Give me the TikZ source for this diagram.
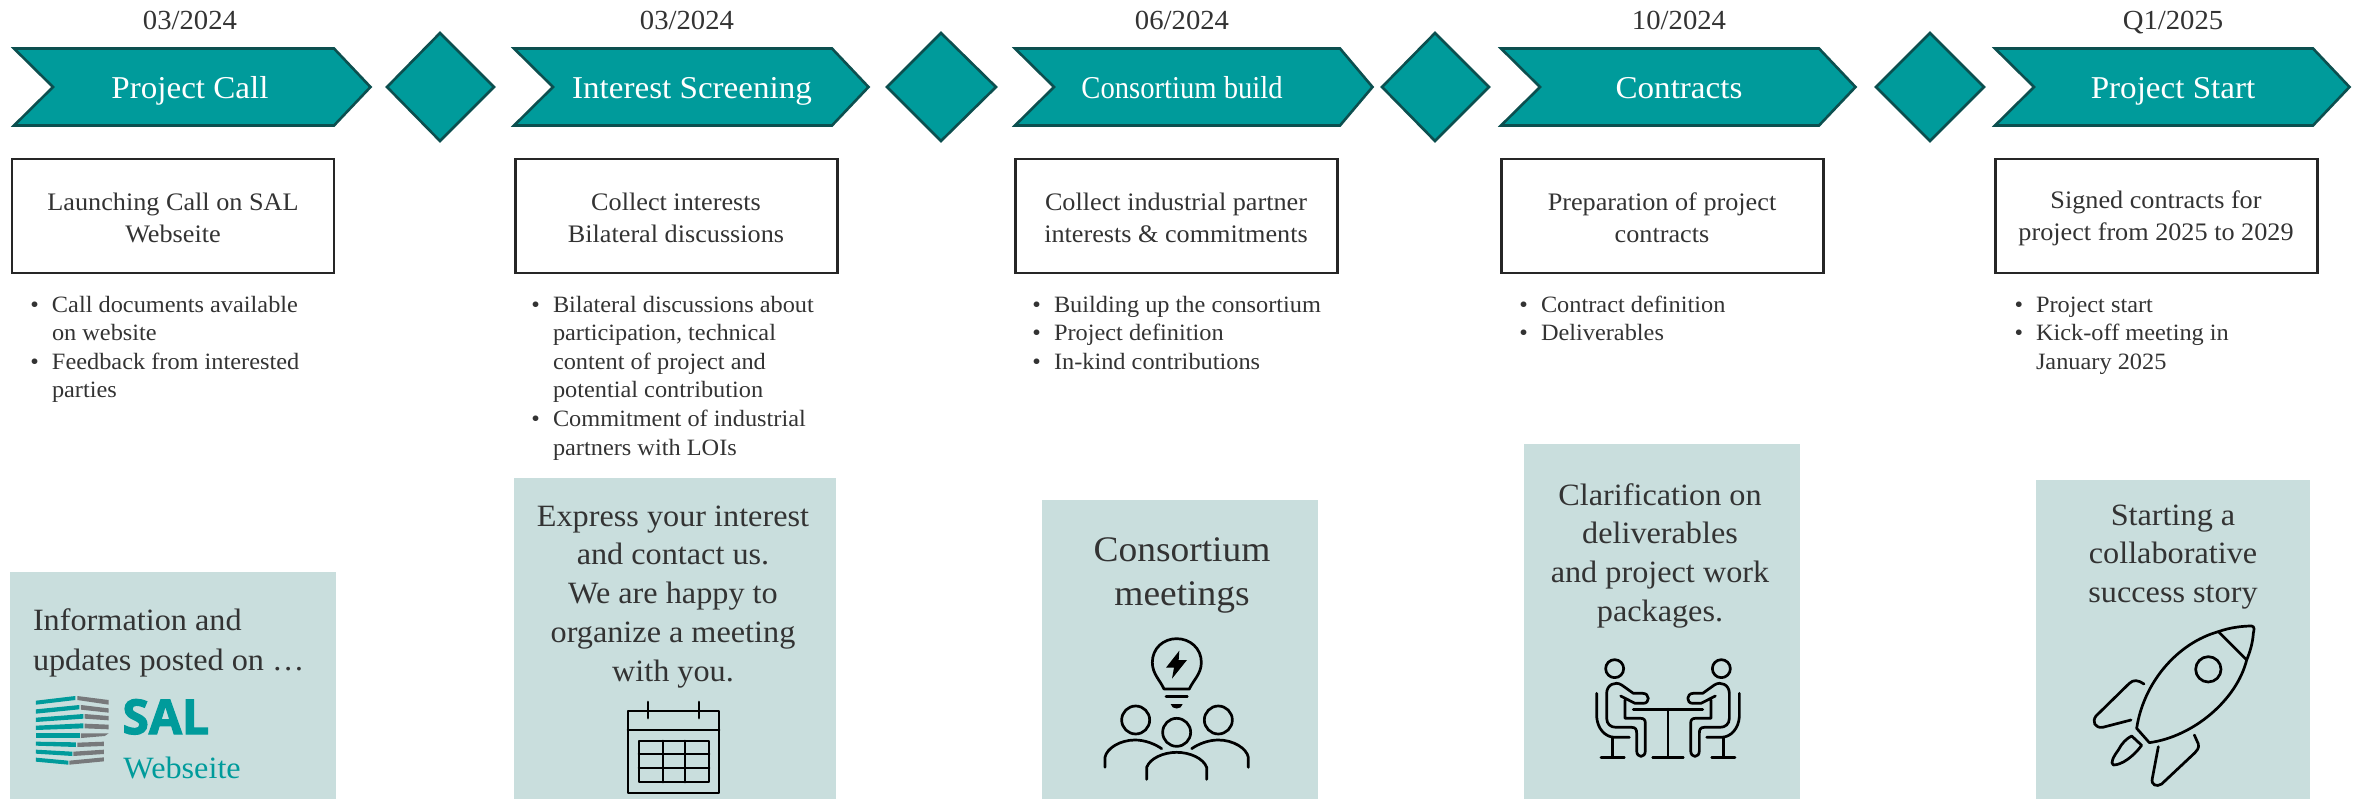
\documentclass[tikz,border=0pt]{standalone}
\usepackage{fontspec}
\setmainfont[FakeStretch=1.04]{Liberation Serif}
\newfontfamily\narrowf[FakeStretch=0.9]{Liberation Serif}
\newfontfamily\salfont[BoldFeatures={FakeBold=2.5}]{Open Sans}
\definecolor{teal1}{HTML}{009B9B}
\definecolor{teald}{HTML}{0C4F4F}
\definecolor{pale}{HTML}{C9DEDD}
\definecolor{ink}{HTML}{333333}
\definecolor{boxl}{HTML}{262626}
\definecolor{logog}{HTML}{77797B}
\newcommand{\fl}{\rule{0pt}{14pt}}
\newcommand{\bul}{\llap{\textbullet\hspace{6.5pt}}}
\tikzset{
  txt/.style={inner sep=0pt,outer sep=0pt,text=ink},
  datetxt/.style={txt,anchor=north,align=center,font=\fontsize{13.8}{15}\selectfont},
  headtxt/.style={txt,anchor=north,align=center,text=white,font=\fontsize{15.9}{20}\selectfont},
  boxtxt/.style={txt,anchor=north,align=center,font=\fontsize{12.6}{16}\selectfont},
  bultxt/.style={txt,anchor=north west,align=left,font=\fontsize{11.7}{14.3}\selectfont},
  greentxt/.style={txt,anchor=north,align=center,font=\fontsize{15.5}{19.4}\selectfont},
  chev/.style={fill=teal1,draw=teald,line width=1.3pt,line join=miter},
  whitebox/.style={draw=boxl,fill=white,line width=1.4pt,minimum width=161pt,minimum height=57pt,inner sep=0pt},
  greenbox/.style={fill=pale,inner sep=0pt,outer sep=0pt},
  icon/.style={draw=black,line width=1.35pt,line cap=round,line join=round},
  zoomed/.style={x=0.5pt/3,y=-0.5pt/3},
}
\newcommand{\chevron}[4]{% left, notch, shoulder, tip
  \draw[chev] (#1,48.5) -- (#3,48.5) -- (#4,87) -- (#3,125.5) -- (#1,125.5) -- (#2,87) -- cycle;}
\newcommand{\diam}[3]{\draw[chev] (#1,33) -- (#2,87) -- (#1,141) -- (#3,87) -- cycle;}
\begin{document}
\begin{tikzpicture}[x=0.5pt,y=-0.5pt]
\useasboundingbox (0,0) rectangle (2361,799);
% green panels
\node[greenbox,minimum width=163pt,minimum height=113.5pt] (g1) at (173,685.5) {};
\node[greenbox,minimum width=161pt,minimum height=160.5pt] (g2) at (675,638.5) {};
\node[greenbox,minimum width=138pt,minimum height=149.5pt] (g3) at (1180,649.5) {};
\node[greenbox,minimum width=138pt,minimum height=177.5pt] (g4) at (1662,621.5) {};
\node[greenbox,minimum width=137pt,minimum height=159.5pt] (g5) at (2173,639.5) {};
% chevrons and diamonds
\chevron{14}{53}{334}{370.5}
\diam{440}{387}{494}
\chevron{514}{553}{832}{868.5}
\diam{941}{887}{996}
\chevron{1015}{1054}{1340}{1372.5}
\diam{1435}{1382}{1489}
\chevron{1501}{1540}{1819}{1855.5}
\diam{1930}{1876}{1984}
\chevron{1995}{2034}{2313}{2349.5}
% dates
\node[datetxt] (d1) at (190,1) {\fl 03/2024};
\node[datetxt] (d2) at (687,1) {\fl 03/2024};
\node[datetxt] (d3) at (1182,1) {\fl 06/2024};
\node[datetxt] (d4) at (1679,1) {\fl 10/2024};
\node[datetxt] (d5) at (2173,1) {\fl Q1/2025};
% headings
\node[headtxt] (h1) at (190,70) {\fl Project Call};
\node[headtxt] (h2) at (692,70) {\fl Interest Screening};
\node[headtxt,font=\narrowf\fontsize{15.9}{20}\selectfont] (h3) at (1182,70) {\fl Consortium build};
\node[headtxt] (h4) at (1679,70) {\fl Contracts};
\node[headtxt] (h5) at (2173,70) {\fl Project Start};
% white boxes
\node[whitebox] (b1) at (173,216) {};
\node[whitebox] (b2) at (676.5,216) {};
\node[whitebox] (b3) at (1176.5,216) {};
\node[whitebox] (b4) at (1662.5,216) {};
\node[whitebox] (b5) at (2156.5,216) {};
\node[boxtxt] (bt1) at (173,182) {\fl Launching Call on SAL\\Webseite};
\node[boxtxt] (bt2) at (676,182) {\fl Collect interests\\Bilateral discussions};
\node[boxtxt] (bt3) at (1176,182) {\fl Collect industrial partner\\interests \& commitments};
\node[boxtxt] (bt4) at (1662,182) {\fl Preparation of project\\contracts};
\node[boxtxt] (bt5) at (2156,180) {\fl Signed contracts for\\project from 2025 to 2029};
% bullets
\node[bultxt] (l1) at (52,284) {\fl\bul Call documents available\\on website\\\bul Feedback from interested\\parties};
\node[bultxt] (l2) at (553,284) {\fl\bul Bilateral discussions about\\participation, technical\\content of project and\\potential contribution\\\bul Commitment of industrial\\partners with LOIs};
\node[bultxt] (l3) at (1054,284) {\fl\bul Building up the consortium\\\bul Project definition\\\bul In-kind contributions};
\node[bultxt] (l4) at (1541,284) {\fl\bul Contract definition\\\bul Deliverables};
\node[bultxt] (l5) at (2036,284) {\fl\bul Project start\\\bul Kick-off meeting in\\January 2025};
% panel texts
\node[greentxt,anchor=north west,align=left,font=\fontsize{15.5}{20}\selectfont] (t1) at (33,602) {\fl Information and\\updates posted on \dots};
\node[greentxt] (t2) at (673,498) {\fl Express your interest\\and contact us.\\We are happy to\\organize a meeting\\with you.};
\node[greentxt,font=\fontsize{18}{22}\selectfont] (t3) at (1182,533) {\fl Consortium\\meetings};
\node[greentxt] (t4) at (1660,477) {\fl Clarification on\\deliverables\\and project work\\packages.};
\node[greentxt] (t5) at (2173,497) {\fl Starting a\\collaborative\\success story};
% SAL logo
\begin{scope}[shift={(0,560)},zoomed]
 \foreach \p in {
  {(108,422)--(226,408)--(226,420)--(108,434)},
  {(108,448)--(238,435)--(238,448)--(108,461)},
  {(108,473)--(250,462)--(250,476)--(108,486)},
  {(108,497)--(250,490)--(250,505)--(108,510)},
  {(108,520)--(240,520)--(240,534)--(108,534)},
  {(108,545)--(228,547)--(228,561)--(108,557)},
  {(108,569)--(217,575)--(217,588)--(108,581)},
  {(108,593)--(205,602)--(205,614)--(108,605)}}
  {\fill[teal1] \p -- cycle;}
 \foreach \p in {
  {(232,408)--(326,420)--(326,434)--(232,420)},
  {(243,435)--(326,445)--(326,458)--(243,449)},
  {(254,462)--(326,468)--(326,481)--(254,476)},
  {(254,491)--(326,494)--(326,508)--(254,505)},
  {(243,520)--(326,520)--(314,528)--(243,534)},
  {(232,548)--(312,545)--(312,558)--(232,561)},
  {(220,575)--(312,569)--(312,582)--(220,588)},
  {(208,602)--(312,592)--(312,604)--(208,614)}}
  {\fill[logog] \p -- cycle;}
\end{scope}
\node[anchor=base west,inner sep=0pt,text=teal1,font=\salfont\bfseries\fontsize{24}{24}\selectfont] (sal) at (122,734) {SAL};
\node[anchor=base west,inner sep=0pt,text=teal1,font=\fontsize{15.5}{18}\selectfont] (web) at (123,778) {Webseite};
% calendar
\begin{scope}[icon]
 \draw (628,711) rectangle (719,793);
 \draw (628,730) -- (719,730);
 \draw (648,702) -- (648,718);
 \draw (699,702) -- (699,718);
 \draw (639,741) rectangle (709,782);
 \draw (663,741) -- (663,782);
 \draw (685,741) -- (685,782);
 \draw (639,754) -- (709,754);
 \draw (639,768) -- (709,768);
\end{scope}
% bulb and people
\begin{scope}[shift={(1040,490)},zoomed,icon]
 \draw (372,597) .. controls (360,570) and (337,552) .. (337,517)
   .. controls (337,475) and (370,446) .. (410,446)
   .. controls (450,446) and (484,475) .. (484,517)
   .. controls (484,552) and (460,570) .. (448,597) -- cycle;
 \fill[black,draw=none] (418,482) -- (378,533) -- (402,533) -- (396,566) -- (441,510) -- (416,510) -- cycle;
 \draw (378,620) -- (442,620);
 \fill[black,draw=none] (392,642) -- (428,642) .. controls (426,660) and (394,660) .. (392,642) -- cycle;
 \draw (287,690) circle[radius=42];
 \draw (535,690) circle[radius=42];
 \draw (410,727) circle[radius=42];
 \draw (195,832) -- (195,802) .. controls (200,775) and (240,750) .. (285,750) .. controls (315,750) and (345,762) .. (365,776);
 \draw (625,832) -- (625,802) .. controls (620,775) and (580,750) .. (535,750) .. controls (505,750) and (475,762) .. (455,776);
 \draw (320,868) -- (320,832) .. controls (330,805) and (370,787) .. (410,787) .. controls (450,787) and (490,805) .. (500,832) -- (500,868);
\end{scope}
% meeting
\begin{scope}[shift={(1520,440)},zoomed,icon]
 \draw (340,808) -- (548,808);
 \draw (444,808) -- (444,952);
 \draw (398,952) -- (490,952);
 \foreach \m/\o in {1/0,-1/888} {
 \begin{scope}[xscale=\m,xshift=\o*0.5pt/3*\m]
  \draw (284,686) circle[radius=27];
  \draw (230,760) -- (230,830) .. controls (232,865) and (255,892) .. (285,892) -- (328,892);
  \draw (278,892) -- (278,952);
  \draw (243,952) -- (313,952);
  \draw (302,768) -- (345,790) -- (370,790) .. controls (390,790) and (390,760) .. (368,760) -- (340,760) -- (305,735) .. controls (285,722) and (260,735) .. (260,760) -- (260,835) .. controls (260,852) and (272,862) .. (288,862) -- (335,862) .. controls (348,862) and (350,870) .. (350,880) -- (350,932) .. controls (350,955) and (376,955) .. (376,932) -- (376,850) .. controls (376,840) and (372,835) .. (362,835) -- (315,835) -- (315,780);
 \end{scope}}
\end{scope}
% rocket
\begin{scope}[shift={(2030,470)},zoomed,icon]
 \draw (320,775) .. controls (340,640) and (440,520) .. (565,485) .. controls (600,472) and (640,468) .. (665,468) .. controls (675,470) and (672,480) .. (670,490) .. controls (668,520) and (660,545) .. (650,570) .. controls (620,690) and (490,800) .. (358,818) -- cycle;
 \draw (565,485) -- (650,570);
 \draw (535,598) circle[radius=38];
 \draw (342,642) .. controls (325,630) and (310,628) .. (298,640) -- (198,738) .. controls (185,755) and (195,775) .. (218,772) -- (303,750);
 \draw (493,795) -- (505,822) .. controls (508,835) and (500,842) .. (495,848) -- (395,942) .. controls (380,952) and (362,945) .. (367,925) -- (385,830);
 \draw (305,798) -- (335,826) .. controls (310,860) and (275,885) .. (250,885) .. controls (240,880) and (250,860) .. (265,840) .. controls (275,820) and (290,805) .. (305,798) -- cycle;
\end{scope}
\end{tikzpicture}
\end{document}
